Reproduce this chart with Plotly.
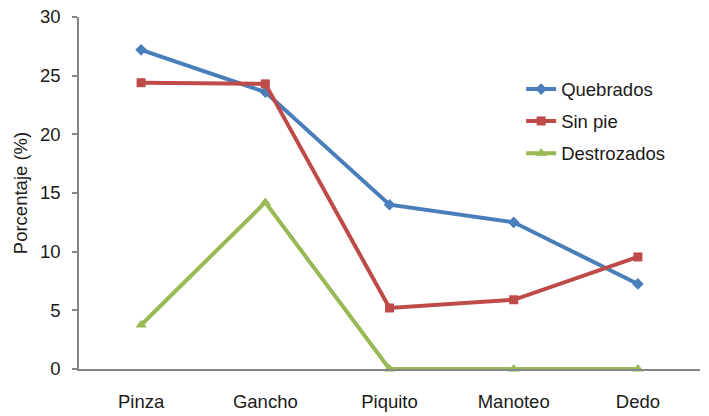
import plotly.graph_objects as go

categories = ["Pinza", "Gancho", "Piquito", "Manoteo", "Dedo"]
quebrados = [27.2, 23.6, 14.0, 12.5, 7.25]
sin_pie = [24.4, 24.3, 5.2, 5.9, 9.55]
destrozados = [3.75, 14.2, 0, 0, 0]
y_ticks = [0, 5, 10, 15, 20, 25, 30]

FONT = "Liberation Sans, Arial, sans-serif"
fig = go.Figure()
series = [
    ("Quebrados", quebrados, "#4A7EBB", "diamond", 9),
    ("Sin pie", sin_pie, "#BE4B48", "square", 9),
    ("Destrozados", destrozados, "#98B954", "triangle-up", 10),
]
for i, (name, vals, col, sym, sz) in enumerate(series):
    fig.add_trace(go.Scatter(
        x=categories, y=vals, name=name, mode="lines+markers",
        line=dict(color=col, width=4),
        marker=dict(symbol=sym, size=sz, color=col),
        legendgroup=str(i), cliponaxis=False,
    ))

fig.update_layout(
    width=709, height=416,
    margin=dict(l=79, r=9, t=17, b=47),
    paper_bgcolor="white", plot_bgcolor="white",
    font=dict(family=FONT, size=18.5, color="#1a1a1a"),
    showlegend=True,
    legend=dict(x=0.712, y=0.848, xanchor="left", yanchor="top",
                font=dict(size=18.5), tracegroupgap=5, bgcolor="rgba(0,0,0,0)"),
    xaxis=dict(
        showline=True, linecolor="#868686", linewidth=1.5,
        ticks="", showgrid=False, zeroline=False,
        ticklabelstandoff=15, automargin=False,
        range=[-0.5, 4.5],
    ),
    yaxis=dict(
        range=[0, 30], tickvals=y_ticks, showline=True, linecolor="#868686", linewidth=1.5,
        ticks="outside", ticklen=5, tickcolor="#868686", tickwidth=1.5,
        showgrid=False, zeroline=False, ticklabelstandoff=8, automargin=False,
        title=dict(text="Porcentaje (%)", standoff=7, font=dict(size=18.5)),
    ),
)
fig.write_html("out.html")
